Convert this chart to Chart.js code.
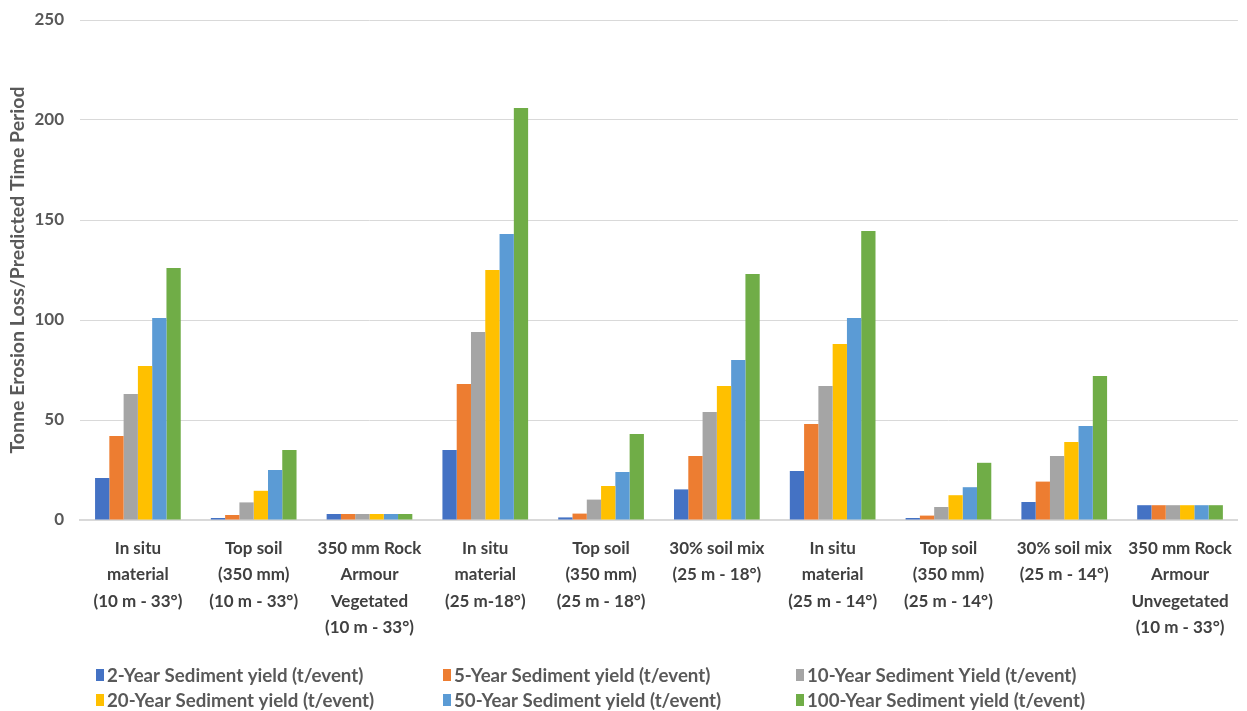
<!DOCTYPE html>
<html>
<head>
<meta charset="utf-8">
<script src="https://cdn.jsdelivr.net/npm/chart.js@4.4.1/dist/chart.umd.min.js"></script>
<style>
  html, body { margin: 0; padding: 0; background: #ffffff; }
  #wrap { width: 1247px; height: 711px; }
</style>
</head>
<body>
<div id="wrap"><canvas id="chart" width="1247" height="711"></canvas></div>
<script>
// Sites / treatments (multi-line category labels)
const categories = [
  ["In situ", "material", "(10 m - 33°)"],
  ["Top soil", "(350 mm)", "(10 m - 33°)"],
  ["350 mm Rock", "Armour", "Vegetated", "(10 m - 33°)"],
  ["In situ", "material", "(25 m-18°)"],
  ["Top soil", "(350 mm)", "(25 m - 18°)"],
  ["30% soil mix", "(25 m - 18°)"],
  ["In situ", "material", "(25 m - 14°)"],
  ["Top soil", "(350 mm)", "(25 m - 14°)"],
  ["30% soil mix", "(25 m - 14°)"],
  ["350 mm Rock", "Armour", "Unvegetated", "(10 m - 33°)"]
];

const seriesNames = [
  "2-Year Sediment yield (t/event)",
  "5-Year Sediment yield (t/event)",
  "10-Year Sediment Yield (t/event)",
  "20-Year Sediment yield (t/event)",
  "50-Year Sediment yield (t/event)",
  "100-Year Sediment yield (t/event)"
];

// Sediment yield per return period (tonnes)
const yield2yr   = [21,   1.0, 3,  35,  1.3, 15.3, 24.5, 1.0,  9.0, 7.4];
const yield5yr   = [42,   2.5, 3,  68,  3.2, 32,   48,   2.2, 19.2, 7.4];
const yield10yr  = [63,   8.8, 3,  94, 10.2, 54,   67,   6.5, 32,   7.4];
const yield20yr  = [77,  14.6, 3, 125, 17,   67,   88,  12.4, 39,   7.4];
const yield50yr  = [101, 25,   3, 143, 24,   80,  101,  16.4, 47,   7.4];
const yield100yr = [126, 35,   3, 206, 43,  123,  144.5, 28.6, 72,  7.4];

const yTicks = [0, 50, 100, 150, 200, 250];

const seriesValues = [yield2yr, yield5yr, yield10yr, yield20yr, yield50yr, yield100yr];
const seriesColors = ["#4472C4", "#ED7D31", "#A5A5A5", "#FFC000", "#5B9BD5", "#70AD47"];

const FONT = "Lato";

// Legend laid out as a 3-column grid under the axis labels
const gridLegend = {
  id: "gridLegend",
  afterDraw(chart) {
    const ctx = chart.ctx;
    const cols = [96, 443, 796];
    const rows = [675, 700];
    ctx.save();
    ctx.font = "bold 18.7px " + FONT;
    ctx.textBaseline = "middle";
    ctx.textAlign = "left";
    chart.data.datasets.forEach((ds, i) => {
      const x = cols[i % 3];
      const y = rows[Math.floor(i / 3)];
      ctx.fillStyle = ds.backgroundColor;
      ctx.fillRect(x, y - 6, 8, 12);
      ctx.fillStyle = "#595959";
      ctx.fillText(ds.label, x + 11, y + 1);
    });
    ctx.restore();
  }
};

new Chart(document.getElementById("chart"), {
  type: "bar",
  data: {
    labels: categories,
    datasets: seriesNames.map((name, i) => ({
      label: name,
      data: seriesValues[i],
      backgroundColor: seriesColors[i],
      borderWidth: 0,
      categoryPercentage: 0.74,
      barPercentage: 1.0
    }))
  },
  options: {
    responsive: false,
    animation: false,
    layout: { padding: { top: 20, right: 2, left: 0, bottom: 61 } },
    plugins: {
      legend: { display: false },
      tooltip: { enabled: false }
    },
    scales: {
      x: {
        afterFit(scale) { scale.height = 130; },
        grid: { display: false, drawTicks: false },
        border: { display: true, color: "#D9D9D9", width: 2 },
        ticks: {
          autoSkip: false,
          maxRotation: 0,
          minRotation: 0,
          padding: 15,
          color: "#404040",
          font: { family: FONT, size: 17, weight: "bold", lineHeight: 1.56 }
        }
      },
      y: {
        min: 0,
        max: 250,
        afterBuildTicks(scale) { scale.ticks = yTicks.map(v => ({ value: v })); },
        afterFit(scale) { scale.width = 80; scale.paddingTop = 0; },
        grid: { color: "#D9D9D9", drawTicks: false },
        border: { display: false },
        title: {
          display: true,
          text: "Tonne Erosion Loss/Predicted Time Period",
          color: "#595959",
          font: { family: FONT, size: 19.5, weight: "bold" },
          padding: { top: 6, bottom: 2 }
        },
        ticks: {
          padding: 16,
          color: "#595959",
          font: { family: FONT, size: 17, weight: "bold" }
        }
      }
    }
  },
  plugins: [gridLegend]
});
</script>
</body>
</html>
